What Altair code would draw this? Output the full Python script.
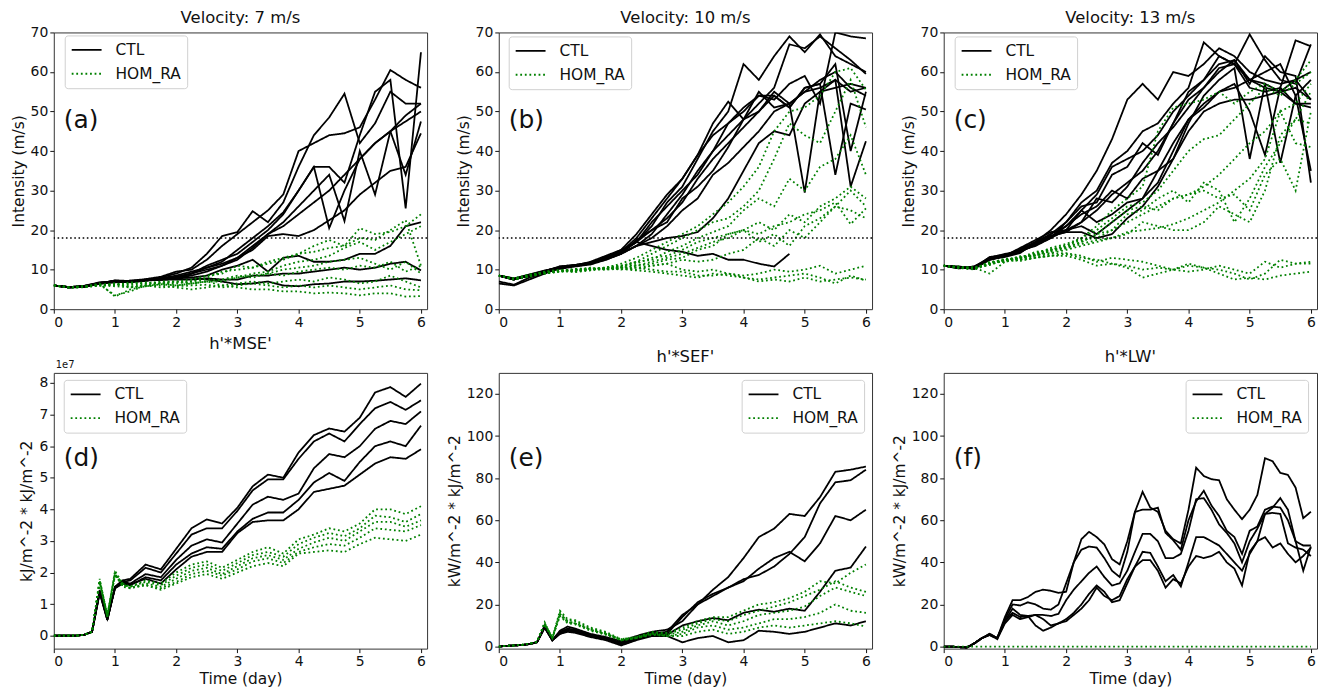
import altair as alt
import pandas as pd

FONT = "DejaVu Sans"
CTL_COLOR = "#000000"
HOM_COLOR = "#008000"

# time grids (days)
T_TOP = [i * 0.25 for i in range(25)]
T_BOT = [i * 0.125 for i in range(11)] + [1.5 + i * 0.25 for i in range(19)]
T_F = [i * 0.125 for i in range(49)]

# ---------------- (a) Velocity 7 m/s ----------------
A_CTL = [
    [6, 5.5, 5.7, 6.6, 7.2, 7.0, 7.4, 8.0, 9.0, 10.5, 14, 18.5, 19.5, 24.8, 22, 27, 36, 44, 48.5, 54.5, 42, 47, 55, 52, 52],
    [6, 5.6, 5.9, 6.8, 7.0, 7.2, 7.6, 8.2, 9.5, 10.0, 12.5, 16, 19, 22, 25, 29, 40, 42, 44, 44.5, 46, 53, 60.5, 58, 56],
    [6, 5.5, 5.6, 6.5, 7.3, 7.1, 7.3, 7.6, 8, 9, 11, 12.5, 14, 17, 20, 24, 30, 36, 36, 32, 44, 55, 58, 25.5, 65],
    [6, 5.6, 5.8, 6.4, 6.9, 7.1, 7.4, 7.4, 8, 9, 10.5, 12, 15, 18, 21, 24.5, 30, 36, 20.5, 30, 38, 42, 45, 34, 47.5],
    [6, 5.5, 5.9, 6.6, 7.0, 6.9, 7.2, 7.8, 8.5, 9.5, 10.5, 11.5, 13, 16, 19, 22, 26, 30, 34, 22.3, 40, 29, 45, 49, 52],
    [6, 5.6, 5.7, 6.5, 7.1, 7.0, 7.5, 7.6, 8.2, 9.0, 10, 11, 12.5, 15.5, 19, 21, 24, 27, 30, 34, 38, 42, 45, 47.5, 50],
    [6, 5.5, 5.8, 6.7, 7.0, 7.2, 7.3, 7.7, 8, 8.5, 9.5, 11, 13, 15, 18.5, 19, 18.5, 20, 22.5, 25, 29, 32, 35, 36, 44.5],
    [6, 5.6, 5.9, 6.6, 7.0, 6.8, 7.2, 7.5, 7.8, 8, 8.5, 10, 11, 12.5, 9.5, 13, 13.5, 12, 12, 12.5, 14, 14, 16, 21, 22],
    [6, 5.5, 5.8, 6.5, 6.8, 7.0, 7.3, 7.4, 7.5, 7.5, 7.8, 7.5, 7.5, 8.5, 8.5, 9, 9, 9.5, 10, 10.5, 10, 10.5, 11.5, 12, 9.8],
    [6, 5.6, 5.7, 6.6, 7.1, 7.0, 7.3, 7.5, 8, 8, 7.5, 7, 6.3, 6.5, 7, 6, 5.8, 6.3, 6.5, 7, 7, 7.2, 7.5, 7.8, 7.3],
]
A_HOM = [
    [6, 5.5, 5.6, 6.0, 6.5, 5.5, 6.0, 6.5, 6.5, 7.0, 8.0, 9.5, 10, 10.5, 11.5, 12.5, 14, 16, 17.5, 16, 20.5, 19, 19.5, 21, 24],
    [6, 5.6, 5.8, 6.3, 6.0, 6.8, 6.5, 7.0, 7.0, 7.5, 8.5, 9, 11, 10.5, 12, 13, 14, 14.5, 15.5, 16, 18, 17.5, 20, 22.5, 11],
    [6, 5.5, 5.5, 6.2, 3.5, 4.5, 6.0, 6.5, 6.8, 7.0, 7.5, 7.5, 8, 9, 9.5, 11, 12, 12.5, 13.5, 15.5, 17, 15, 17, 19, 21],
    [6, 5.6, 5.8, 6.0, 6.5, 6.2, 6.4, 6.8, 7.0, 6.5, 7.0, 7.5, 8.5, 8, 9, 10, 10.5, 11, 12, 12.5, 13, 11.5, 10, 12, 9],
    [6, 5.4, 5.6, 6.5, 3.2, 5.0, 5.8, 6.3, 6.0, 6.5, 7.0, 7.0, 8, 8.5, 9, 8.5, 9.5, 10, 10.5, 10, 11, 10.5, 12, 9.5, 11],
    [6, 5.5, 5.7, 6.2, 6.3, 6.5, 6.8, 6.5, 6.0, 6.5, 7.0, 6.0, 6.5, 7, 6.5, 7, 7.5, 7, 8, 7.5, 6.5, 7, 8.5, 7, 5.5],
    [6, 5.6, 5.8, 6.0, 6.2, 5.8, 6.0, 5.5, 5.8, 6.0, 6.2, 5.5, 6, 6.5, 6, 5.5, 6, 5.5, 6, 5.5, 5, 5.5, 6, 5, 4.8],
    [6, 5.5, 5.6, 6.0, 5.8, 5.5, 5.8, 6.0, 5.5, 5.0, 5.5, 6.0, 5.5, 5, 5, 4.5, 4.5, 4, 4.2, 4, 3.5, 4, 4, 3.2, 3.3],
]

# ---------------- (b) Velocity 10 m/s ----------------
B_CTL = [
    [8.5, 7.5, 8.5, 9.5, 10.5, 11, 11.5, 13, 14.5, 17, 21, 27, 31, 38, 45, 50, 62, 58, 64, 69, 65, 69.5, 64, 62, 60],
    [8.5, 7.8, 8.8, 9.8, 10.5, 11, 12, 13.5, 15, 19, 24, 29, 33, 39, 47, 52.5, 48, 52, 56, 67, 66, 69, 66, 63, 59.5],
    [8.5, 7.5, 8.5, 9.5, 10.5, 11, 11.5, 13, 15, 17, 16, 15, 14.5, 13.5, 14, 12.5, 12.5, 11.5, 10.8, 14, None, None, None, None, None],
    [8.5, 7.6, 8.6, 9.6, 10.8, 11.2, 11.8, 13, 14.5, 17, 22, 26, 30, 34, 40, 44, 48, 50, 55, 52, 29.5, 55, 56, 57, 56],
    [8.5, 7.7, 8.4, 9.4, 10.4, 11, 11.5, 12.8, 14, 17.5, 20, 23, 27, 33, 38, 42, 46, 50, 54, 51, 56, 57, 34, 52, 50.5],
    [8.5, 7.5, 8.7, 9.7, 10.6, 11.1, 11.6, 13.2, 14.2, 16, 18, 21, 25, 28, 34, 37, 41, 45, 50, 52, 55, 56, 58, 31, 42.5],
    [6.5, 6, 7.5, 9, 10.5, 11, 11.5, 12.5, 14, 16, 19, 24, 29, 35, 40, 47, 50, 54, 54, 51, 56, 57, 62, 40, 55],
    [7, 6.2, 8, 9.2, 10.2, 10.8, 11.3, 12.5, 14, 16, 17, 18, 18.5, 19.5, 23, 28, 35, 42, 45, 44, 52, 55, 58, 55, 56],
    [8.5, 7.5, 8.5, 9.6, 10.8, 11.2, 11.8, 13, 14.5, 18, 23, 28, 33, 39, 44, 47, 51, 54, 53, 57, 59, 52, 70, 69, 68.5],
    [8.5, 7.7, 8.6, 9.5, 10.5, 11, 11.6, 12.8, 14.2, 17, 20, 22, 28, 31, 35, 41, 48, 55, 51, 52, 55, 58, 60, 56, 54],
]
B_HOM = [
    [8.5, 7.6, 8.5, 9.2, 9.8, 9.5, 10, 10.5, 11.5, 13, 15, 17, 19, 21, 24, 27, 31, 36, 45, 50, 51, 54, 60, 61, 55.5],
    [8.5, 7.8, 8.8, 9, 9.5, 10, 10, 10.5, 11, 12, 14, 16, 18, 20, 22, 23, 26, 30, 38, 47, 44, 42, 50, 58, 46],
    [8.5, 7.5, 8.2, 9.4, 9.8, 9.6, 10.2, 10.3, 10.8, 12, 12.5, 14.5, 16, 18, 19.5, 21, 25, 28, 26, 33, 30, 36, 38, 44, 34],
    [8.5, 7.7, 8.6, 9, 9.7, 10.1, 10.5, 10, 10.8, 11.5, 13, 13.5, 15, 17, 18, 19, 20, 22, 20, 24, 22, 26, 28, 31, 28],
    [8.5, 7.6, 8.4, 9.3, 9.5, 9.8, 10, 10.6, 11, 11, 12, 13, 14, 15.5, 17, 18, 20, 19, 21, 22, 24, 25, 27, 21.5, 25.5],
    [8.5, 7.5, 8.7, 9.5, 10, 9.6, 10.4, 10.2, 10.5, 11, 11.5, 12.5, 13, 15, 16, 19, 20, 17, 19, 16, 21, 23, 26, 30, 26],
    [8.5, 7.8, 8.3, 9.1, 9.8, 10, 10, 10.4, 10.5, 10, 11, 11.5, 12.5, 12, 12.5, 14, 15, 18, 16, 20, 18, 22, 26, 25, 23],
    [8.5, 7.6, 8.5, 9.4, 9.6, 9.4, 9.8, 10.2, 10.5, 10.5, 11, 11.5, 10, 9.5, 10, 9, 8.5, 9, 10, 9.5, 10, 11, 9, 10, 11],
    [8.5, 7.5, 8.6, 9.2, 9.7, 10.2, 10.1, 10.4, 10, 10.5, 10, 9.5, 9.5, 8.5, 8.5, 9, 8, 7.5, 8, 8.5, 9, 8, 6.5, 8.5, 7.2],
    [8.5, 7.7, 8.4, 9, 9.6, 9.8, 10.2, 10, 10.2, 9.8, 9.5, 9, 8.5, 8, 9, 8.5, 8, 7, 7.5, 7, 8, 7, 7.5, 8, 7.5],
]

# ---------------- (c) Velocity 13 m/s ----------------
C_CTL = [
    [11, 10.5, 10.5, 12.5, 13.5, 15, 17, 20, 24, 29, 35, 43, 53, 57, 53, 60, 59, 62, 66, 64, 60, 58, 57, 58, 53],
    [11, 10.8, 10.2, 13, 14, 14.5, 16.5, 19, 22, 27, 30, 37, 40, 45, 47, 52, 56, 67.5, 64, 62, 58, 56, 55, 52, 51],
    [11, 10.3, 10.8, 12.8, 13.5, 15.5, 17.5, 19.5, 20, 22, 25, 29, 32, 35, 40, 47, 55, 58, 62, 63, 58, 60, 62, 54, 35],
    [11, 10.5, 10.4, 13.2, 13.8, 14.8, 16, 18, 22, 26, 27, 34, 36, 42, 39, 47, 53, 56, 60, 63, 57, 64, 60, 59, 32],
    [11, 10.6, 10.2, 12.6, 13.2, 14.2, 17, 19, 21, 25, 29, 36, 38, 40, 44, 50, 54, 58, 64, 62, 69.5, 63, 58, 57, 67],
    [11, 10.4, 10.6, 12.9, 13.6, 15, 16.8, 18.5, 19.5, 22, 28, 27, 31, 37, 42, 46, 51, 56, 61, 62, 56, 55, 56, 68, 66.5],
    [11, 10.7, 10.3, 12.7, 13.4, 14.6, 16.2, 18, 21, 24, 26, 30, 28, 33, 35, 38, 47, 54, 58, 61, 38, 57, 55, 58, 60],
    [11, 10.5, 10.5, 12.5, 13.5, 14.5, 16.5, 18, 20, 25, 22, 24, 27, 28, 32, 40, 48, 52, 55, 56, 58, 57, 37, 54, 58],
    [11, 10.4, 10.8, 13, 13.6, 15.2, 17, 18.5, 19.5, 19.5, 18, 19, 23, 26, 31, 38, 45, 50, 52, 53, 53, 54, 55, 56, 53],
    [11, 10.6, 10.3, 12.8, 13.7, 14.8, 16.5, 18.5, 20, 21, 19, 22, 25, 28, 35, 42, 48, 51, 55, 57, 50, 39, 56, 52, 52],
]
C_HOM = [
    [11, 10.5, 10, 11.5, 12.5, 13, 14.5, 15, 16, 18, 21, 25, 28, 31, 45, 51, 52, 53, 55, 52, 55, 57, 55, 58, 63],
    [11, 10.8, 10.3, 11.8, 12, 12.8, 14, 15.5, 16.5, 18, 20, 23, 26, 27, 30, 35, 40, 43, 44, 48, 52, 56, 54, 57, 60],
    [11, 10.3, 10.5, 11.2, 12.6, 13.2, 13.8, 15, 15.5, 17, 19, 22, 25, 26, 25, 28, 29, 31, 34, 38, 42, 45, 50, 52, 57],
    [11, 10.6, 10.2, 12, 12.3, 13.4, 13.5, 14.8, 16.2, 17.5, 18, 20, 24, 25, 28, 30, 27, 32, 30, 22, 28, 36, 42, 48, 55],
    [11, 10.4, 10.4, 11.6, 12.8, 12.6, 14.2, 15.2, 15.8, 17, 19, 20, 22, 24, 26, 28, 29, 30, 28, 29, 25, 34, 38, 30, 50],
    [11, 10.7, 10.6, 11.4, 12.2, 13, 13.6, 14.2, 15, 16, 17, 18, 19, 22, 21, 20, 20, 22, 26, 24, 22, 30, 44, 48, 47],
    [11, 10.5, 10.1, 11.9, 12.4, 13.1, 14, 14.5, 15.4, 16.5, 17.5, 18, 19.5, 20, 20.5, 21.5, 23, 25, 27, 30, 33, 38, 50, 42, 41],
    [11, 10.6, 10.5, 9, 12, 12.5, 13, 13.5, 14, 13, 12.5, 11.5, 11, 10, 10.5, 10, 9.5, 10, 11, 10, 9, 12, 10.5, 11.5, 12],
    [11, 10.4, 10.3, 11.2, 12.5, 12.2, 13, 13.5, 13.5, 12.5, 11, 11.5, 10.5, 8, 9, 10, 11, 10.5, 9, 7.5, 8, 7.5, 8.5, 9, 9.5],
    [11, 10.5, 10.4, 11.5, 12.6, 12.8, 13.2, 14, 14.2, 13.5, 12, 13, 12.5, 12, 11, 10, 11.5, 10.5, 10, 9, 7.5, 9, 12.5, 11.5, 11.5],
]

# ---------------- (d) h'*MSE' (values in units of 1e7) ----------------
D_CTL = [
    [0, 0, 0, 0, 0.03, 0.12, 1.45, 0.5, 1.55, 1.75, 1.8, 2.25, 2.1, 2.75, 3.4, 3.68, 3.55, 4.05, 4.73, 5.1, 5.0, 5.8, 6.35, 6.56, 6.46, 6.9, 7.7, 7.87, 7.56, 7.98],
    [0, 0, 0, 0, 0.03, 0.12, 1.4, 0.55, 1.5, 1.7, 1.75, 2.15, 2.0, 2.6, 3.2, 3.4, 3.4, 3.95, 4.6, 4.95, 4.95, 5.6, 6.15, 6.4, 6.15, 6.7, 7.2, 7.4, 7.15, 7.45],
    [0, 0, 0, 0, 0.03, 0.12, 1.35, 0.5, 1.55, 1.7, 1.65, 1.95, 1.85, 2.4, 2.85, 3.05, 2.95, 3.55, 4.15, 4.4, 4.3, 4.5, 5.3, 5.75, 5.65, 6.0, 6.55, 6.8, 6.7, 7.1],
    [0, 0, 0, 0, 0.03, 0.12, 1.4, 0.55, 1.5, 1.65, 1.6, 1.85, 1.75, 2.25, 2.6, 2.8, 2.75, 3.3, 3.7, 3.9, 3.9, 4.3, 4.85, 5.15, 4.9, 5.5, 6.0, 6.15, 6.0, 6.65],
    [0, 0, 0, 0, 0.03, 0.12, 1.38, 0.5, 1.52, 1.68, 1.62, 1.8, 1.65, 2.1, 2.5, 2.65, 2.65, 3.25, 3.6, 3.65, 3.65, 4.0, 4.55, 4.65, 4.75, 5.1, 5.45, 5.65, 5.6, 5.9],
]
D_HOM = [
    [0, 0, 0, 0, 0.03, 0.12, 1.8, 0.6, 2.05, 1.65, 1.55, 1.75, 1.65, 2.0, 2.25, 2.35, 2.15, 2.4, 2.65, 2.8, 2.6, 3.05, 3.2, 3.4, 3.3, 3.55, 4.0, 4.0, 3.85, 4.1],
    [0, 0, 0, 0, 0.03, 0.12, 1.75, 0.65, 2.0, 1.6, 1.55, 1.7, 1.6, 1.9, 2.15, 2.25, 2.05, 2.3, 2.55, 2.65, 2.5, 2.9, 3.1, 3.25, 3.15, 3.4, 3.8, 3.75, 3.6, 3.85],
    [0, 0, 0, 0, 0.03, 0.12, 1.7, 0.6, 1.95, 1.65, 1.5, 1.65, 1.55, 1.8, 2.05, 2.15, 1.95, 2.2, 2.45, 2.55, 2.4, 2.75, 2.95, 3.1, 3.0, 3.3, 3.6, 3.6, 3.45, 3.65],
    [0, 0, 0, 0, 0.03, 0.12, 1.72, 0.65, 1.9, 1.6, 1.52, 1.6, 1.5, 1.7, 1.95, 2.05, 1.9, 2.1, 2.35, 2.45, 2.3, 2.65, 2.8, 2.9, 2.85, 3.1, 3.4, 3.35, 3.3, 3.5],
    [0, 0, 0, 0, 0.03, 0.12, 1.68, 0.6, 1.95, 1.55, 1.5, 1.6, 1.45, 1.65, 1.85, 1.95, 1.8, 2.0, 2.2, 2.3, 2.2, 2.6, 2.65, 2.7, 2.65, 2.9, 3.1, 3.05, 3.0, 3.2],
]

# ---------------- (e) h'*SEF' ----------------
E_CTL = [
    [0, 0.3, 0.5, 0.7, 1.2, 2.0, 10, 3, 7.5, 9.5, 8.5, 6, 4.5, 2.5, 5, 7, 8, 12, 20, 27, 33, 42, 52, 56, 63, 62, 71, 83, 84, 85.5],
    [0, 0.3, 0.5, 0.7, 1.2, 2.0, 9.5, 3, 7, 8.5, 8, 5.5, 4, 1.5, 4, 6, 7, 15, 20, 24, 28, 32, 34, 38, 44, 52, 68, 78, 79, 84],
    [0, 0.3, 0.5, 0.7, 1.2, 2.0, 9, 3, 6.5, 8, 7.5, 5, 4, 2, 4.5, 6.5, 6, 14, 21, 25, 28, 31, 37, 42, 45, 40.5, 49, 62, 60, 65],
    [0, 0.3, 0.5, 0.7, 1.2, 2.0, 9, 3, 6, 7.5, 7, 5, 3.5, 1, 3.5, 5.5, 5.5, 10, 12, 13.5, 12.5, 16, 17.5, 16.5, 18, 17, 26, 36, 37.5, 47.5],
    [0, 0.3, 0.5, 0.7, 1.2, 2.0, 9, 3, 6, 7, 6.5, 4.5, 3, 0.5, 3, 5, 5, 2, 4, 5, 2, 3, 7.5, 7, 6, 7, 9, 11, 10, 12],
]
E_HOM = [
    [0, 0.3, 0.5, 0.8, 1.3, 2.2, 11.5, 4, 17, 13, 12.5, 9, 7, 3.5, 4.5, 7, 6.5, 9, 12, 14, 14, 17, 20, 21, 23, 26, 31, 30, 35, 39],
    [0, 0.3, 0.5, 0.8, 1.3, 2.2, 11, 4, 16, 12.5, 12, 8.5, 6.5, 3, 4, 6.5, 6, 8, 11, 13, 12, 15, 17, 19, 21, 24, 27, 31, 28, 26],
    [0, 0.3, 0.5, 0.8, 1.3, 2.2, 11, 4, 15.5, 12, 11, 8, 6, 3.5, 4.5, 6, 5.5, 7, 10, 12, 10, 12, 15, 16, 17, 19, 24, 28, 26, 24],
    [0, 0.3, 0.5, 0.8, 1.3, 2.2, 10.5, 4, 15, 11.5, 11, 8, 6, 3, 4, 6, 5, 6, 9, 10, 8, 9, 11, 13, 13, 14, 16, 20, 17, 16],
    [0, 0.3, 0.5, 0.8, 1.3, 2.2, 10.5, 4, 14.5, 11, 10.5, 7.5, 5.5, 3, 4, 5.5, 5, 5, 7, 8, 6, 7, 9, 10, 9, 10, 11, 12, 11, 9.5],
]

# ---------------- (f) h'*LW' ----------------
F_CTL = [
    [0, 0, -0.3, -0.5, 1.5, 4, 6, 4, 14, 22, 22, 23.5, 26, 27, 26.5, 25.5, 26, 40, 51, 54.5, 52, 48.5, 41.5, 39, 50, 64, 73.5, 66, 64, 55, 51, 49, 65, 85, 81, 79.5, 79, 70, 65, 60.5, 65, 72, 89.5, 88, 82.5, 81.5, 75.5, 61, 64],
    [0, 0, -0.3, -0.5, 1.5, 4, 6, 4, 13, 20, 19.5, 21, 20, 18, 17.5, 20, 30, 40, 46, 47.5, 47, 42, 36, 33, 45, 64, 65, 65, 66, 54, 50.5, 46, 60, 69, 74, 67, 62, 55, 52, 44, 55, 57, 65, 66.5, 66, 60, 50, 48, 48],
    [0, 0, -0.3, -0.5, 1.5, 4, 5.5, 4, 12, 18, 15, 14.5, 15, 15, 14.5, 15.5, 22, 27, 31, 35, 38, 33, 29, 30, 36, 45, 53.5, 53.5, 50, 42, 42, 44, 55, 70, 70.5, 65, 58, 54, 49, 40, 50, 56, 63, 63.5, 63, 49, 47, 46, 43],
    [0, 0, -0.3, -0.5, 1.5, 4, 5.5, 4, 12, 16, 14, 14.5, 10, 7.5, 9, 11, 13, 16, 20, 25, 29, 26, 21, 22, 30, 38, 45, 44.5, 38, 31, 34, 28.5, 40, 52, 52, 50, 48, 44, 40, 36, 44, 50, 63, 66, 70.5, 65, 50, 36, 47.5],
    [0, 0, -0.3, -0.5, 1.5, 4, 5.5, 3.5, 11, 15, 13, 14, 15, 13, 10, 11, 12, 15, 18, 22, 28, 24, 22, 24, 32, 38, 41, 41, 36, 28, 32, 30, 38, 43, 42, 43, 45, 40, 37, 29, 45, 50, 52, 47, 49, 44, 40, 43, 47],
]
F_HOM = [
    [0] * 49,
]

X_TICKS = [0, 1, 2, 3, 4, 5, 6]
LW = 1.8
DOT = [1.8, 2.8]


def long_df(lines, times, exp, scale=1.0):
    rows = []
    for k, vals in enumerate(lines):
        for t, v in zip(times, vals):
            if v is None:
                continue
            rows.append({"t": t, "v": v * scale, "exp": exp, "run": f"{exp}_{k}"})
    return pd.DataFrame(rows)


def panel(ctl, hom, times, title, label, ydom, yvals, ytitle, lx, ly, laby,
          height, xtitle=None, hline=None, scale=1.0, label_expr=None, offset_text=None,
          title_offset=7):
    xs = alt.Scale(domain=[0, 6.1], nice=False, zero=False)
    ys = alt.Scale(domain=ydom, nice=False, zero=False)
    xaxis = alt.Axis(values=X_TICKS, format="d", title=xtitle, titlePadding=3,
                     labelOverlap=False)
    yargs = dict(values=yvals, title=ytitle, titlePadding=4, labelOverlap=False)
    if label_expr:
        yargs["labelExpr"] = label_expr
    else:
        yargs["format"] = "d"
    yaxis = alt.Axis(**yargs)
    cs = alt.Scale(domain=["CTL", "HOM_RA"], range=[CTL_COLOR, HOM_COLOR])
    ds = alt.Scale(domain=["CTL", "HOM_RA"], range=[[1, 0], DOT])
    leg = alt.Legend(title=None, orient="none", legendX=lx, legendY=ly, direction="vertical",
                     fillColor="white", strokeColor="#d0d0d0", cornerRadius=3, padding=6,
                     labelFont=FONT, labelFontSize=15.5, labelColor="#111111",
                     symbolType="M-1,0H3", symbolSize=225, symbolStrokeWidth=LW,
                     labelOffset=28, rowPadding=7)

    def lines(df):
        return alt.Chart(df).mark_line(strokeWidth=LW, clip=True).encode(
            x=alt.X("t:Q", scale=xs, axis=xaxis),
            y=alt.Y("v:Q", scale=ys, axis=yaxis),
            detail="run:N",
            color=alt.Color("exp:N", scale=cs, legend=leg),
            strokeDash=alt.StrokeDash("exp:N", scale=ds, legend=leg),
        )

    layers = [lines(long_df(ctl, times, "CTL", scale)),
              lines(long_df(hom, times, "HOM_RA", scale))]
    if hline is not None:
        layers.append(
            alt.Chart(pd.DataFrame({"v": [hline]})).mark_rule(
                color="black", strokeDash=[1.6, 2.6], strokeWidth=1.5
            ).encode(y=alt.Y("v:Q", scale=ys, axis=yaxis))
        )
    layers.append(
        alt.Chart(pd.DataFrame({"label": [label]})).mark_text(
            align="left", baseline="middle", fontSize=25, font=FONT, color="#111111"
        ).encode(x=alt.value(10), y=alt.value(laby), text="label:N")
    )
    if offset_text:
        layers.append(
            alt.Chart(pd.DataFrame({"label": [offset_text]})).mark_text(
                align="left", baseline="bottom", fontSize=10, font=FONT, color="#111111"
            ).encode(x=alt.value(2), y=alt.value(-3), text="label:N")
        )
    return alt.layer(*layers).properties(
        width=375, height=height,
        title=alt.TitleParams(title, fontSize=16.5, font=FONT, fontWeight="normal",
                              color="#111111", offset=title_offset),
    )


top_y = [0, 10, 20, 30, 40, 50, 60, 70]
bot_y = [0, 20, 40, 60, 80, 100, 120]

p_a = panel(A_CTL, A_HOM, T_TOP, "Velocity: 7 m/s", "(a)", [0, 70], top_y,
            "Intensity (m/s)", 11, 3, 88, 278, hline=18, title_offset=-1)
p_b = panel(B_CTL, B_HOM, T_TOP, "Velocity: 10 m/s", "(b)", [0, 70], top_y,
            "Intensity (m/s)", 10, 4, 88, 278, hline=18, title_offset=-1)
p_c = panel(C_CTL, C_HOM, T_TOP, "Velocity: 13 m/s", "(c)", [0, 70], top_y,
            "Intensity (m/s)", 11, 4, 88, 278, hline=18, title_offset=-1)
p_d = panel(D_CTL, D_HOM, T_BOT, "h'*MSE'", "(d)", [-0.41e7, 8.32e7],
            [i * 1e7 for i in range(9)], "kJ/m^-2 * kJ/m^-2", 10, 7, 86, 277,
            xtitle="Time (day)", scale=1e7, label_expr="datum.value / 10000000",
            offset_text="1e7")
p_e = panel(E_CTL, E_HOM, T_BOT, "h'*SEF'", "(e)", [-1, 130], bot_y,
            "kW/m^-2 * kJ/m^-2", 244, 7, 86, 277, xtitle="Time (day)")
p_f = panel(F_CTL, F_HOM, T_F, "h'*LW'", "(f)", [-1, 130], bot_y,
            "kW/m^-2 * kJ/m^-2", 243, 7, 86, 277, xtitle="Time (day)")

chart = alt.concat(
    p_a, p_b, p_c, p_d, p_e, p_f, columns=3,
    spacing=alt.RowColnumber(row=64, column=72), bounds="flush",
).resolve_scale(
    x="independent", y="independent", color="independent", strokeDash="independent"
).resolve_legend(
    color="independent", strokeDash="independent"
)

chart = chart.properties(
    padding={"left": 2, "top": 0, "right": 0, "bottom": 0}
).configure_view(
    stroke="#333333", strokeWidth=1
).configure_axis(
    grid=False, domain=False, labelFont=FONT, titleFont=FONT, labelFontSize=14,
    titleFontSize=15.5, titleFontWeight="normal", labelColor="#111111",
    titleColor="#111111", tickColor="#111111", tickSize=4, tickWidth=1, labelPadding=2,
    labelOverlap=False,
)

chart.save("out.html", embed_options={"renderer": "svg", "actions": False})
